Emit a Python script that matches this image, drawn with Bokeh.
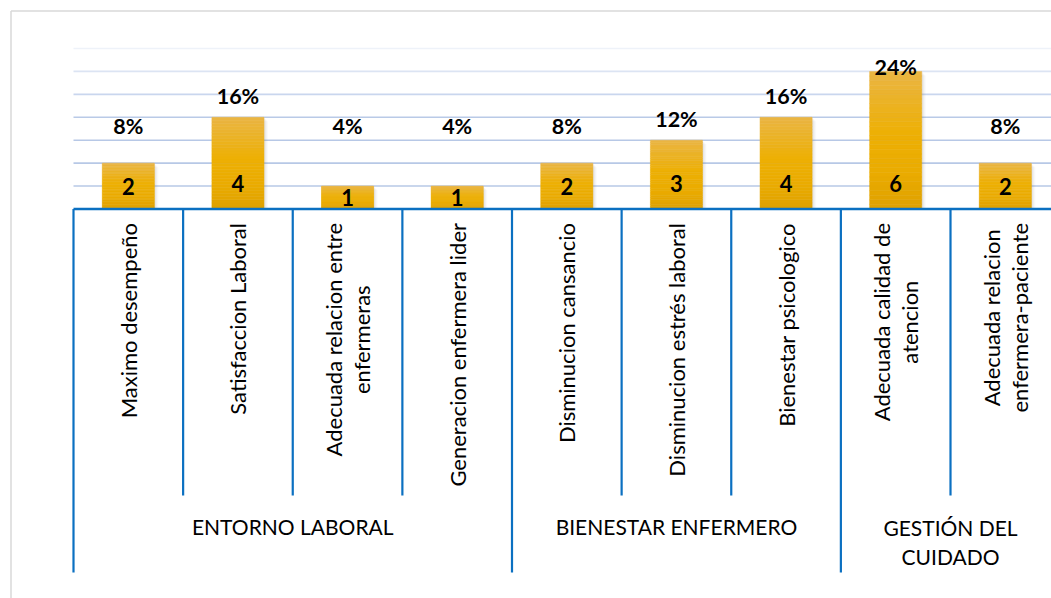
import numpy as np
from bokeh.plotting import figure
from bokeh.core.properties import value
from bokeh.embed import file_html
from bokeh.resources import INLINE

# ---------------- data ----------------
categories = [
    "Maximo desempeño",
    "Satisfaccion Laboral",
    "Adecuada relacion entre\nenfermeras",
    "Generacion enfermera lider",
    "Disminucion cansancio",
    "Disminucion estrés laboral",
    "Bienestar psicologico",
    "Adecuada calidad de\natencion",
    "Adecuada relacion\nenfermera-paciente",
]
counts = [2, 4, 1, 1, 2, 3, 4, 6, 2]
percents = [8, 16, 4, 4, 8, 12, 16, 24, 8]
groups = ["ENTORNO LABORAL", "BIENESTAR ENFERMERO", "GESTIÓN DEL\nCUIDADO"]
group_sizes = [4, 3, 2]
grid_ticks = [1, 2, 3, 4, 5, 6, 7]

# ---------------- layout / scale ----------------
W, H = 1051, 598
SX = 109.625          # px per category
SY = 22.93            # px per count unit
x_start = -73 / SX
x_end = x_start + W / SX
y_end = 208.5 / SY
y_start = y_end - H / SY

def dx(px):
    return px / SX

def dy(px):
    return px / SY

FONT = "Lato"
BLUE = "#0B70C1"

p = figure(width=W, height=H, x_range=(x_start, x_end), y_range=(y_start, y_end),
           output_backend="svg", toolbar_location=None, title=None,
           x_axis_type=None, y_axis_type=None, min_border=0,
           background_fill_color="white", border_fill_color="white")
p.grid.visible = False
p.outline_line_color = None

# outer chart border
bx = x_start + dx(10.5)
by = y_end - dy(10.5)
p.segment(x0=[bx, bx], y0=[by, by], x1=[bx, x_end + 1], y1=[y_start - 1, by],
          line_color="#D9D9D9", line_width=1.5)

# gridlines
grid_colors = ["#B7C8E6", "#B7C8E6", "#B7C8E6", "#B9CAE7", "#C9D6EE", "#DCE4F3", "#EEF2F9"]
p.segment(x0=[0] * len(grid_ticks), x1=[x_end + 1] * len(grid_ticks),
          y0=grid_ticks, y1=grid_ticks, line_color=grid_colors, line_width=1.6)

# bars
n = len(categories)
centers = np.arange(n) + 0.5
bw = 0.475

# soft shadow
for k, a in [(4, 0.04), (3, 0.05), (2, 0.07), (1, 0.08)]:
    p.quad(left=centers - bw / 2 + dx(k), right=centers + bw / 2 + dx(k),
           bottom=[0] * n, top=[c - dy(k) for c in counts],
           fill_color="#7F7F7F", fill_alpha=a, line_color=None)

# gradient fill built from slices of each bar
stops_t = [0.0, 0.45, 0.75, 1.0]
stops_c = [(234, 181, 68), (237, 176, 5), (234, 171, 0), (222, 161, 0)]
NS = 30
L, R, B, T, C = [], [], [], [], []
for i, v in enumerate(counts):
    for j in range(NS):
        t = (j + 0.5) / NS
        rgb = [int(round(np.interp(t, stops_t, [c[q] for c in stops_c]))) for q in range(3)]
        L.append(centers[i] - bw / 2)
        R.append(centers[i] + bw / 2)
        T.append(v * (1 - j / NS))
        B.append(v * (1 - (j + 1) / NS))
        C.append("#%02x%02x%02x" % tuple(rgb))
p.quad(left=L, right=R, bottom=B, top=T, fill_color=C, line_color=C, line_width=0.5)

# axis line and dividers
p.segment(x0=[0], x1=[x_end + 1], y0=[0], y1=[0], line_color=BLUE, line_width=2.6)
edges = list(range(n + 1))
group_edges = [0] + list(np.cumsum(group_sizes))
short_bottom = -dy(495 - 208.5)
long_bottom = -dy(572 - 208.5)
p.segment(x0=edges, x1=edges, y0=[0] * len(edges),
          y1=[long_bottom if e in group_edges else short_bottom for e in edges],
          line_color=BLUE, line_width=2.2)

# value labels inside bars
val_y = [min(v / 2, 1.13) for v in counts]
p.text(x=centers, y=val_y, text=[str(v) for v in counts],
       text_font=value(FONT), text_font_style="bold", text_font_size="22px",
       text_color="black", text_align="center", text_baseline="middle")

# percent labels above bars
pct_y = [min(max(v + 0.91, 3.62), 6.21) for v in counts]
p.text(x=centers, y=pct_y, text=[f"{q}%" for q in percents],
       text_font=value(FONT), text_font_style="bold", text_font_size="21.5px",
       text_color="black", text_align="center", text_baseline="middle")

# category labels (rotated)
p.text(x=centers, y=[-dy(14)] * n, text=categories, angle=np.pi / 2,
       anchor=value("center_right"),
       text_font=value(FONT), text_font_size="22px", text_color="black",
       text_align="center", text_baseline="middle", text_line_height=1.05)

# group labels
gx, gy = [], []
start = 0
for g, s in zip(groups, group_sizes):
    gx.append(start + s / 2)
    nl = g.count("\n")
    gy.append(-dy(526 - 208.5 + nl * 15))
    start += s
p.text(x=gx, y=gy, text=groups,
       text_font=value(FONT), text_font_size="21px", text_color="black",
       text_align="center", text_baseline="middle", text_line_height=1.16)

open("out.html", "w").write(file_html(p, INLINE))
